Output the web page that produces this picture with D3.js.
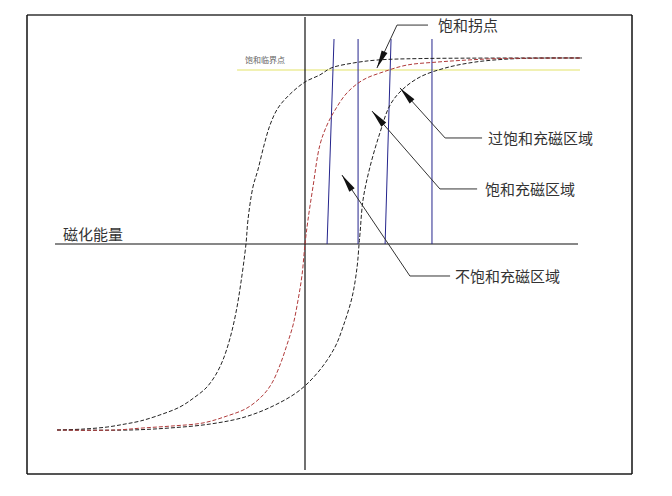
<!DOCTYPE html>
<html>
<head>
<meta charset="utf-8">
<script src="https://cdn.jsdelivr.net/npm/d3@7"></script>
<style>
body{margin:0;background:#fff;}
text{font-family:"Noto Sans CJK SC","Noto Sans",sans-serif;}
</style>
</head>
<body>
<svg id="chart" width="672" height="496"></svg>
<script>
// H (x) and M (y) in chart units
var leftX=[-100,-89.5,-79.8,-72.6,-66.5,-58.5,-50.4,-44.4,-39.9,-36.3,-33.1,-30.2,-27.8,-25.8,-23.8,-23.0,-21.0,-19.0,-16.5,-14.1,-10.9,-6.0,0,6.0,10.5,19.4,29.0,46.4,111.7];
var leftY=[-100,-99.5,-98.4,-96.8,-95.2,-91.9,-87.6,-82.3,-77.4,-71.0,-62.4,-50.5,-36.6,-20.4,0,12.9,30.6,39.8,53.2,64.0,73.1,80.6,87.1,90.9,94.6,97.3,98.9,99.7,100];

var redX=[-100,-76.6,-65.3,-53.2,-41.1,-31.5,-23.4,-16.9,-13.3,-10.1,-7.3,-4.8,-2.8,-1.2,0,1.2,3.2,6.0,8.9,12.1,16.9,23.4,31.5,41.1,53.2,65.3,78.6,111.7];
var redY=[-100,-100,-98.9,-97.8,-96.2,-92.5,-88.2,-81.2,-74.7,-65.1,-54.3,-43.5,-30.1,-16.7,0,12.9,30.6,53.2,64.0,72.0,81.2,88.2,92.5,96.2,97.8,98.9,99.7,100];

var rightX=[-100,-70.6,-54.4,-38.3,-24.2,-12.1,-2.0,6.0,12.1,15.3,19.0,21.0,21.8,22.2,23.4,26.2,30.2,34.3,39.1,46.4,56.5,68.5,82.7,98.8,111.7];
var rightY=[-100,-100,-98.9,-96.8,-93.0,-86.6,-78.5,-67.7,-55.4,-44.6,-28.5,-12.4,0,5.9,23.7,41.4,59.7,74.7,82.8,89.8,94.6,97.8,99.5,100,100];

// region boundaries (blue lines): x at top, x at axis
var regionTop=[11.7,21.4,34.7,51.2];
var regionBottom=[8.9,21.4,32.3,51.2];
var regionTopY=110.2;

var criticalM=93.5; // yellow line
var criticalFrom=-27.4, criticalTo=110.9;

var labels=["饱和拐点","过饱和充磁区域","饱和充磁区域","不饱和充磁区域"];
var tipX=[29.0,38.3,27.0,14.9];
var tipY=[94.6,83.9,71.5,37.1];
var elbowX=[37.1,56.5,54.4,42.3];
var elbowY=[117.7,57.0,29.6,-17.2];
var endX=[49.6,71.4,69.4,58.5];
var textX=[53.6,73.8,72.6,60.5];

var svg=d3.select("#chart");
var x=d3.scaleLinear().domain([-100,100]).range([57,553]);
var y=d3.scaleLinear().domain([-100,100]).range([430,58]);

// frame
svg.append("line").attr("x1",27).attr("y1",15).attr("x2",632).attr("y2",15).attr("stroke","#666").attr("stroke-width",2);
svg.append("line").attr("x1",27).attr("y1",474).attr("x2",632).attr("y2",474).attr("stroke","#555").attr("stroke-width",2);
svg.append("line").attr("x1",27).attr("y1",15).attr("x2",27).attr("y2",474).attr("stroke","#111").attr("stroke-width",1.5);
svg.append("line").attr("x1",632).attr("y1",15).attr("x2",632).attr("y2",474).attr("stroke","#111").attr("stroke-width",1.5);

// yellow critical line
svg.append("line").attr("x1",x(criticalFrom)).attr("x2",x(criticalTo)).attr("y1",y(criticalM)).attr("y2",y(criticalM))
	.attr("stroke","#eded9a").attr("stroke-width",1.5);
svg.append("text").attr("x",x(criticalFrom)+8).attr("y",y(criticalM)-7).attr("font-size",8).attr("fill","#666").text("饱和临界点");

// axes
svg.append("line").attr("x1",x(-100.8)).attr("x2",x(110.1)).attr("y1",y(0)).attr("y2",y(0)).attr("stroke","#111").attr("stroke-width",1.2);
svg.append("line").attr("x1",x(0)).attr("x2",x(0)).attr("y1",y(122)).attr("y2",y(-121.5)).attr("stroke","#111").attr("stroke-width",1.2);
svg.append("text").attr("x",x(-97.6)).attr("y",y(0)-4).attr("font-size",15).attr("fill","#333").text("磁化能量");

// blue region lines
for(var i=0;i<regionTop.length;i++){
	svg.append("line").attr("x1",x(regionTop[i])).attr("y1",y(regionTopY)).attr("x2",x(regionBottom[i])).attr("y2",y(0))
		.attr("stroke","#24248c").attr("stroke-width",1);
}

// curves
var line=d3.line().x(function(d){return x(d[0]);}).y(function(d){return y(d[1]);}).curve(d3.curveCatmullRom.alpha(0.5));
function drawCurve(xs,ys,color){
	svg.append("path").datum(d3.zip(xs,ys)).attr("d",line).attr("fill","none")
		.attr("stroke",color).attr("stroke-width",1).attr("stroke-dasharray","4,2");
}
drawCurve(leftX,leftY,"#222");
drawCurve(rightX,rightY,"#222");
drawCurve(redX,redY,"#b03a3a");

// annotations with arrow heads
for(var j=0;j<labels.length;j++){
	var tx=x(tipX[j]),ty=y(tipY[j]),ex=x(elbowX[j]),ey=y(elbowY[j]);
	svg.append("polyline").attr("points",[tx,ty,ex,ey,x(endX[j]),ey].join(","))
		.attr("fill","none").attr("stroke","#333").attr("stroke-width",1);
	var a=Math.atan2(ey-ty,ex-tx),len=18,w=3.2;
	var bx=tx+len*Math.cos(a),by=ty+len*Math.sin(a);
	var p=d3.path();
	p.moveTo(tx,ty);
	p.lineTo(bx-w*Math.sin(a),by+w*Math.cos(a));
	p.lineTo(bx+w*Math.sin(a),by-w*Math.cos(a));
	p.closePath();
	svg.append("path").attr("d",p.toString()).attr("fill","#111");
	svg.append("text").attr("x",x(textX[j])).attr("y",ey+6).attr("font-size",15).attr("fill","#333").text(labels[j]);
}
</script>
</body>
</html>
